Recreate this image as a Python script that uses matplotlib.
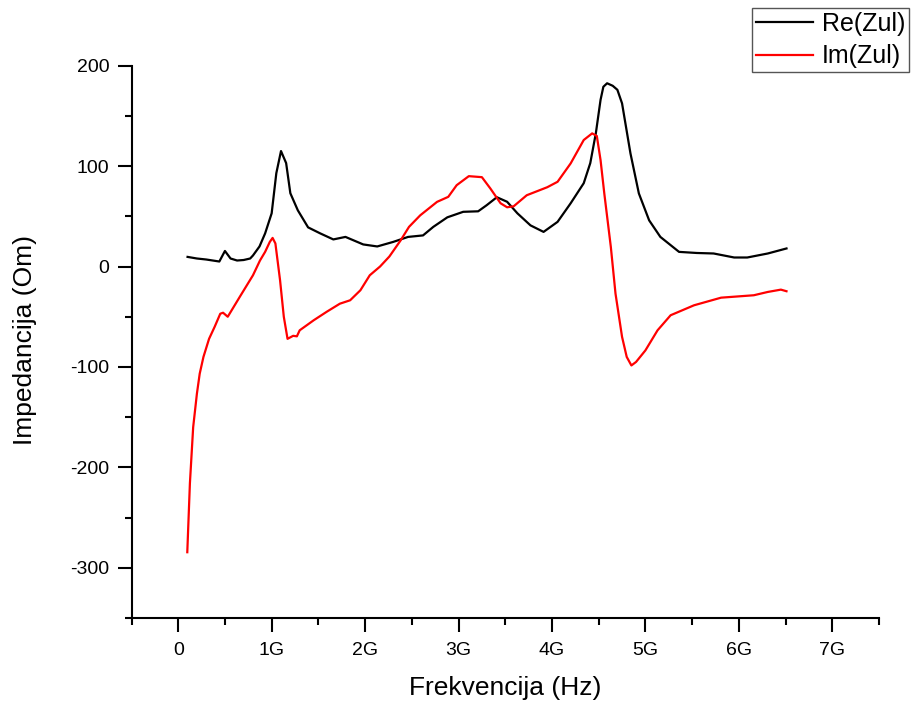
import matplotlib
matplotlib.use("Agg")
import matplotlib.pyplot as plt
from matplotlib.ticker import MultipleLocator
import numpy as np

plt.rcParams['font.family'] = ['Liberation Sans', 'DejaVu Sans']
plt.rcParams['axes.unicode_minus'] = False

# Frequency in GHz
re_f = [0.10, 0.20, 0.30, 0.37, 0.44, 0.50, 0.56, 0.63, 0.70, 0.77, 0.80, 0.87, 0.93, 1.00,
        1.05, 1.10, 1.155, 1.20, 1.28, 1.39, 1.52, 1.66, 1.79, 1.98, 2.13, 2.30, 2.46, 2.62,
        2.73, 2.88, 3.05, 3.21, 3.30, 3.41, 3.52, 3.63, 3.77, 3.91, 4.06, 4.20, 4.34, 4.41,
        4.47, 4.52, 4.55, 4.59, 4.65, 4.70, 4.75, 4.84, 4.93, 5.04, 5.16, 5.36, 5.55, 5.73,
        5.95, 6.09, 6.31, 6.51]
re_z = [9.6, 8, 7, 6, 5, 15.5, 8, 6, 6.5, 8, 11, 20, 33, 53,
        93, 115, 103, 73, 56, 39, 33, 27, 29.5, 22, 20, 24.5, 29.5, 31,
        39.5, 49, 54.5, 55, 61, 69, 64.5, 53, 41, 34.5, 44.5, 63, 83, 103,
        133, 166, 179, 182.5, 180, 176, 162.5, 112.7, 72.8, 46, 29.5, 14.6, 13.5, 13,
        9, 9, 13, 18]

im_f = [0.097, 0.125, 0.16, 0.20, 0.23, 0.27, 0.33, 0.39, 0.45, 0.48, 0.53, 0.66, 0.80, 0.875,
        0.93, 0.98, 1.01, 1.04, 1.09, 1.13, 1.17, 1.23, 1.27, 1.30, 1.45, 1.59, 1.73, 1.84,
        1.95, 2.05, 2.16, 2.26, 2.38, 2.47, 2.59, 2.77, 2.89, 2.98, 3.11, 3.25, 3.34, 3.45,
        3.52, 3.59, 3.73, 3.95, 4.06, 4.20, 4.34, 4.43, 4.48, 4.52, 4.56, 4.63, 4.68, 4.75,
        4.80, 4.85, 4.90, 5.00, 5.13, 5.27, 5.52, 5.81, 6.16, 6.31, 6.45, 6.51]
im_z = [-284.5, -216, -160, -126.6, -106.7, -90, -72, -60, -47, -46, -50, -30, -8.7, 6,
        14.6, 24.5, 28.5, 23, -13.7, -50, -72, -69, -69.5, -63.5, -53.5, -45, -37, -33.6,
        -23.6, -8.7, 0, 10, 26, 39.5, 51, 64.4, 69.4, 81, 90, 89, 77.8, 63,
        59, 60, 71, 79, 84.4, 102.7, 126, 132.6, 130, 106, 72.8, 19.5, -27, -70,
        -90, -98.5, -95, -83.5, -63.5, -48.5, -38.6, -31, -28.6, -25.3, -23, -24.6]

x_ticks = [0, 1, 2, 3, 4, 5, 6, 7]
x_tick_labels = ['0', '1G', '2G', '3G', '4G', '5G', '6G', '7G']
y_ticks = [-300, -200, -100, 0, 100, 200]

fig = plt.figure(figsize=(9.11, 7.04), dpi=100)
ax = fig.add_axes([131.5/911, 1-618/704, (879-131.5)/911, (618-65.7)/704])

ax.plot(re_f, re_z, color='black', lw=1.6, label='Re(Zul)')
ax.plot(im_f, im_z, color='#ff0000', lw=1.6, label='Im(Zul)')

ax.set_xlim(-0.5, 7.5)
ax.set_ylim(-350, 200)
ax.set_xticks(x_ticks)
ax.set_xticklabels(x_tick_labels)
ax.set_yticks(y_ticks)
ax.xaxis.set_minor_locator(MultipleLocator(0.5))
ax.yaxis.set_minor_locator(MultipleLocator(50))
for s in ['top', 'right']:
    ax.spines[s].set_visible(False)
for s in ['left', 'bottom']:
    ax.spines[s].set_linewidth(1.5)
ax.tick_params(which='major', direction='out', length=10, width=1.5, labelsize=14)
ax.tick_params(axis='y', which='major', pad=6)
ax.tick_params(axis='x', which='major', pad=7)
ax.tick_params(which='minor', direction='out', length=5, width=1.5)

ax.set_xlabel('Frekvencija (Hz)', fontsize=19)
ax.set_ylabel('Impedancija (Om)', fontsize=19)
ax.xaxis.set_label_coords((505-131.5)/747.5, -(688-618)/552.3)
ax.yaxis.set_label_coords(-(131.5-25)/747.5, (618-340)/552.3)
ax.xaxis.label.set_verticalalignment('center')
ax.yaxis.label.set_verticalalignment('center')

leg = fig.legend(loc='upper right', bbox_to_anchor=(909/911, 1-8/704), fontsize=18,
                 frameon=True, fancybox=False, edgecolor='#555555', framealpha=1,
                 borderpad=0.15, handlelength=2.3, handletextpad=0.35, labelspacing=0.35,
                 borderaxespad=0)
leg.get_frame().set_linewidth(1.0)

fig.savefig('out.png', dpi=100)
